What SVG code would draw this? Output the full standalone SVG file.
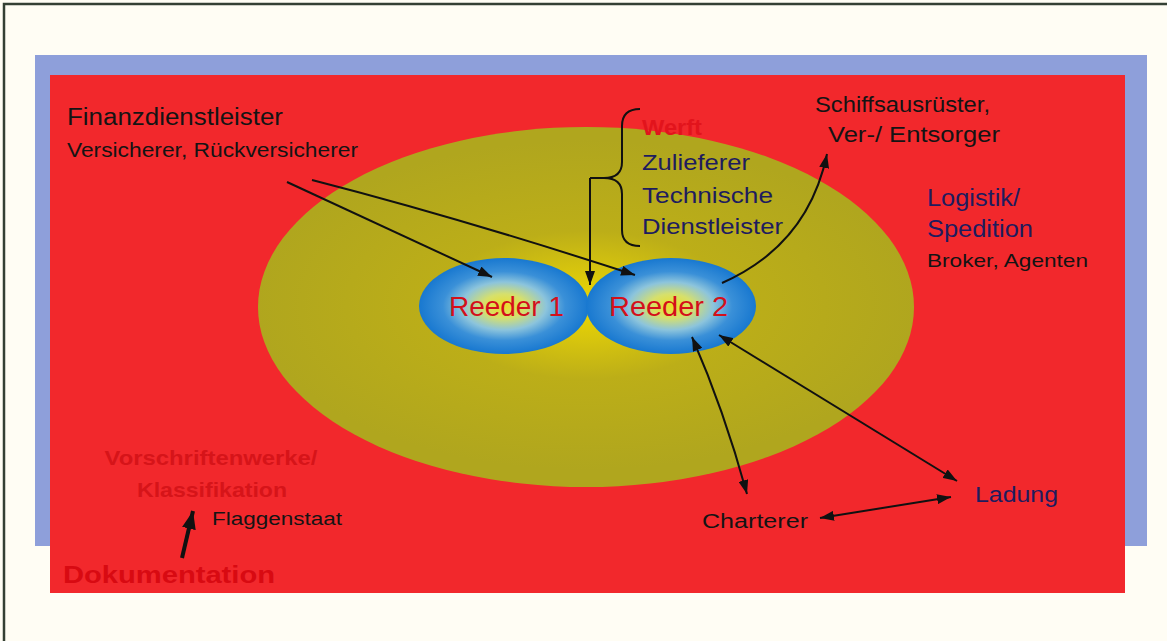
<svg xmlns="http://www.w3.org/2000/svg" width="1167" height="641" viewBox="0 0 1167 641">
  <style>
    .t { font-family: "Liberation Sans", Arial, sans-serif; }
    .blk { fill: #141414; }
    .navy { fill: #1e1c5e; }
    .red { fill: #d4101a; }
    .dim { fill: #d61419; font-weight: bold; }
    .conn { fill: none; stroke: #111; stroke-width: 2; }
  </style>
  <defs>
    <radialGradient id="field" cx="586" cy="305" r="330" gradientUnits="userSpaceOnUse" gradientTransform="translate(586 305) scale(1 0.5) translate(-586 -305)">
      <stop offset="0" stop-color="#eed800"/>
      <stop offset="0.22" stop-color="#d6c40e"/>
      <stop offset="0.45" stop-color="#bcae18"/>
      <stop offset="1" stop-color="#b0a61e"/>
    </radialGradient>
    <radialGradient id="core">
      <stop offset="0" stop-color="#ecde28"/>
      <stop offset="0.25" stop-color="#d6e06c"/>
      <stop offset="0.5" stop-color="#8cc4dc"/>
      <stop offset="0.72" stop-color="#3a90d8"/>
      <stop offset="1" stop-color="#1878d0"/>
    </radialGradient>
    <marker id="ah" viewBox="0 0 14 10" refX="14" refY="5" markerWidth="14" markerHeight="10" markerUnits="userSpaceOnUse" orient="auto-start-reverse">
      <path d="M0,0 L14,5 L0,10 z" fill="#111"/>
    </marker>
    <marker id="ahBig" viewBox="0 0 18 14" refX="18" refY="7" markerWidth="18" markerHeight="14" markerUnits="userSpaceOnUse" orient="auto">
      <path d="M0,0 L18,7 L0,14 z" fill="#111"/>
    </marker>
  </defs>

  <!-- page -->
  <rect x="0" y="0" width="1167" height="641" fill="#fffdf4"/>
  <path d="M4,641 L4,4 L1167,4" fill="none" stroke="#344034" stroke-width="2.5"/>

  <!-- backdrop panels -->
  <rect x="35" y="55" width="1112" height="491" fill="#8e9fda"/>
  <rect x="50" y="75" width="1075" height="518" fill="#f2282c"/>

  <!-- inner field -->
  <g id="field-ellipse">
    <ellipse cx="586" cy="307" rx="328" ry="180" fill="url(#field)"/>
  </g>

  <g id="reeder1">
    <ellipse cx="504" cy="306" rx="85" ry="48" fill="url(#core)"/>
    <text class="t red" x="449" y="316" font-size="27" textLength="115" lengthAdjust="spacingAndGlyphs">Reeder 1</text>
  </g>
  <g id="reeder2">
    <ellipse cx="671" cy="306" rx="85" ry="48" fill="url(#core)"/>
    <text class="t red" x="609" y="316" font-size="27" textLength="119" lengthAdjust="spacingAndGlyphs">Reeder 2</text>
  </g>

  <g id="finanz">
    <text class="t blk" x="67" y="125" font-size="23" textLength="216" lengthAdjust="spacingAndGlyphs">Finanzdienstleister</text>
    <text class="t blk" x="67" y="157" font-size="20" textLength="291" lengthAdjust="spacingAndGlyphs">Versicherer, Rückversicherer</text>
  </g>

  <g id="werft">
    <text class="t" x="642" y="135" font-size="22" font-weight="bold" fill="#e2141c" textLength="60" lengthAdjust="spacingAndGlyphs">Werft</text>
    <text class="t navy" x="642" y="170" font-size="22" textLength="108" lengthAdjust="spacingAndGlyphs">Zulieferer</text>
    <text class="t navy" x="642" y="203" font-size="22" textLength="131" lengthAdjust="spacingAndGlyphs">Technische</text>
    <text class="t navy" x="642" y="234" font-size="22" textLength="141" lengthAdjust="spacingAndGlyphs">Dienstleister</text>
    <path class="conn" d="M640,109 Q622,109 622,126 L622,162 Q622,178 604,178 L590,178 M604,178 Q622,178 622,194 L622,230 Q622,246 640,246"/>
  </g>

  <g id="ausruester">
    <text class="t blk" x="815" y="112" font-size="22" textLength="175" lengthAdjust="spacingAndGlyphs">Schiffsausrüster,</text>
    <text class="t blk" x="828" y="142" font-size="22" textLength="172" lengthAdjust="spacingAndGlyphs">Ver-/ Entsorger</text>
  </g>

  <g id="logistik">
    <text class="t navy" x="927" y="206" font-size="23" textLength="93" lengthAdjust="spacingAndGlyphs">Logistik/</text>
    <text class="t navy" x="927" y="237" font-size="23" textLength="106" lengthAdjust="spacingAndGlyphs">Spedition</text>
    <text class="t blk" x="927" y="267" font-size="19" textLength="161" lengthAdjust="spacingAndGlyphs">Broker, Agenten</text>
  </g>

  <g id="vorschriften">
    <text class="t dim" x="211" y="465" font-size="21" text-anchor="middle" textLength="213" lengthAdjust="spacingAndGlyphs">Vorschriftenwerke/</text>
    <text class="t dim" x="212" y="497" font-size="21" text-anchor="middle" textLength="150" lengthAdjust="spacingAndGlyphs">Klassifikation</text>
    <text class="t blk" x="212" y="525" font-size="18" textLength="130" lengthAdjust="spacingAndGlyphs">Flaggenstaat</text>
  </g>

  <g id="dokumentation">
    <text class="t" x="63" y="583" font-size="24" font-weight="bold" fill="#d80a12" textLength="212" lengthAdjust="spacingAndGlyphs">Dokumentation</text>
  </g>

  <g id="charterer">
    <text class="t blk" x="702" y="528" font-size="20" textLength="106" lengthAdjust="spacingAndGlyphs">Charterer</text>
  </g>
  <g id="ladung">
    <text class="t navy" x="975" y="502" font-size="22" textLength="83" lengthAdjust="spacingAndGlyphs">Ladung</text>
  </g>

  <!-- connectors -->
  <g id="connectors">
    <path class="conn" d="M287,182 L492,277" marker-end="url(#ah)"/>
    <path class="conn" d="M312,180 Q460,218 635,275" marker-end="url(#ah)"/>
    <path class="conn" d="M590,178 L590,285" marker-end="url(#ah)"/>
    <path class="conn" d="M722,283 Q808,245 827,154" marker-end="url(#ah)"/>
    <path class="conn" d="M692,337 Q724,410 747,494" marker-start="url(#ah)" marker-end="url(#ah)"/>
    <path class="conn" d="M719,335 L957,481" marker-start="url(#ah)" marker-end="url(#ah)"/>
    <path class="conn" d="M820,518 L951,497" marker-start="url(#ah)" marker-end="url(#ah)"/>
    <path d="M182,558 L193,511" fill="none" stroke="#111" stroke-width="4" marker-end="url(#ahBig)"/>
  </g>
</svg>
